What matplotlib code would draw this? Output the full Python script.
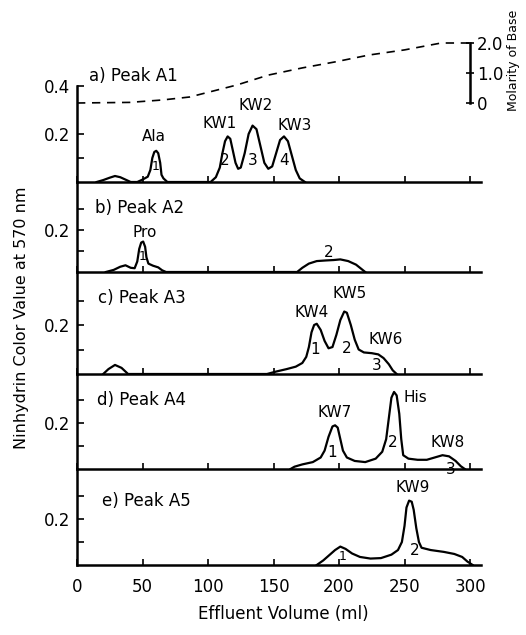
import matplotlib.pyplot as plt
import numpy as np

plt.rcParams['font.family'] = ['DejaVu Sans']

# effluent volume (ml) / ninhydrin colour value at 570 nm
a_ml = [15, 20, 25, 29, 33, 37, 41,
        46, 50, 54, 56, 57.5, 59, 60.5, 62, 63.5, 64.5, 66, 69,
        102, 106, 109, 111, 113, 115, 117, 119, 121, 123, 125, 128, 131, 134,
        137, 140, 143, 146, 149, 152, 155, 158, 161, 164, 167, 170, 174]
a_val = [0, 0.008, 0.018, 0.025, 0.02, 0.01, 0,
         0, 0.01, 0.022, 0.05, 0.1, 0.125, 0.13, 0.12, 0.08, 0.03, 0.015, 0,
         0, 0.02, 0.06, 0.12, 0.17, 0.19, 0.18, 0.13, 0.08, 0.055, 0.06, 0.12, 0.2, 0.235,
         0.22, 0.15, 0.08, 0.055, 0.065, 0.12, 0.175, 0.19, 0.17, 0.11, 0.05, 0.015, 0]

b_ml = [22, 28, 33, 37, 41, 44, 46, 47.5, 49, 50.5, 52, 53, 54.5, 58, 62, 65, 68,
        168, 172, 177, 183, 190, 196, 201, 207, 213, 217, 220]
b_val = [0, 0.01, 0.025, 0.032, 0.02, 0.018, 0.05, 0.11, 0.14, 0.145, 0.12, 0.07, 0.04,
         0.03, 0.022, 0.008, 0,
         0, 0.02, 0.04, 0.052, 0.055, 0.057, 0.06, 0.052, 0.035, 0.015, 0]

c_ml = [20, 24, 29, 34, 39,
        145, 152, 160, 167, 172, 175, 177, 179, 181, 183, 186, 189, 192, 195, 198,
        201, 204, 206, 209, 212, 215, 219, 225, 230, 234, 238, 241, 244]
c_val = [0, 0.02, 0.037, 0.025, 0,
         0, 0.01, 0.02, 0.03, 0.045, 0.07, 0.11, 0.17, 0.2, 0.205, 0.18, 0.135, 0.105, 0.11,
         0.16, 0.22, 0.255, 0.25, 0.2, 0.14, 0.1, 0.088, 0.085, 0.08, 0.065, 0.04, 0.015, 0]

d_ml = [163, 166, 172, 180, 186, 189, 192, 195, 197, 199, 201, 203, 206, 212, 220, 228,
        233, 236, 238, 240, 242, 244, 246, 247.5, 249, 253, 260, 267, 273, 279, 284,
        289, 293, 296]
d_val = [0, 0.01, 0.02, 0.03, 0.05, 0.08, 0.14, 0.185, 0.19, 0.18, 0.13, 0.08, 0.05,
         0.035, 0.03, 0.045, 0.075, 0.13, 0.22, 0.31, 0.335, 0.32, 0.24, 0.13, 0.06,
         0.045, 0.04, 0.04, 0.05, 0.06, 0.055, 0.035, 0.012, 0]

e_ml = [183, 188, 193, 197, 201, 205, 210, 216, 224, 232, 240, 245, 248, 250, 251.5,
        253.5, 255.5, 257, 259, 261, 263, 270, 280, 288, 294, 298, 302]
e_val = [0, 0.02, 0.045, 0.065, 0.08, 0.07, 0.05, 0.035, 0.028, 0.03, 0.045, 0.065, 0.1,
         0.17, 0.25, 0.28, 0.275, 0.24, 0.16, 0.1, 0.075, 0.065, 0.057, 0.048, 0.035,
         0.015, 0]

# base gradient (molarity) drawn dashed in panel a
grad_ml = [0, 40, 65, 86, 122, 146, 172, 197, 223, 250, 278, 300]
grad_M = [0, 0.02, 0.1, 0.2, 0.6, 0.93, 1.17, 1.37, 1.6, 1.77, 2.0, 2.0]

panel_titles = ['a) Peak A1', 'b) Peak A2', 'c) Peak A3', 'd) Peak A4', 'e) Peak A5']
xticks = [0, 50, 100, 150, 200, 250, 300]

W, H = 526, 635
fig = plt.figure(figsize=(W / 100, H / 100), dpi=100)

# (bottom px, top px, ymax) for each panel
layout = [(182, 35, 147 / 240), (272, 182, 90 / 210), (374, 272, 102 / 245),
          (469, 374, 95 / 230), (565, 469, 96 / 230)]
series = [(a_ml, a_val), (b_ml, b_val), (c_ml, c_val), (d_ml, d_val), (e_ml, e_val)]

# peak labels: (text, ml, value, size)
notes = [
    [('Ala', 59, 0.19, 11), ('KW1', 109, 0.245, 11), ('KW2', 136, 0.317, 11),
     ('KW3', 166, 0.2375, 11), ('1', 60, 0.065, 9), ('2', 113, 0.09, 11),
     ('3', 134, 0.09, 11), ('4', 158, 0.09, 11)],
    [('Pro', 52, 0.19, 11), ('1', 50, 0.075, 9), ('2', 192, 0.095, 11)],
    [('KW4', 179, 0.25, 11), ('KW5', 208, 0.33, 11), ('KW6', 236, 0.14, 11),
     ('1', 182, 0.1, 11), ('2', 206, 0.105, 11), ('3', 229, 0.035, 11)],
    [('KW7', 197, 0.245, 11), ('His', 258, 0.31, 11), ('KW8', 283, 0.117, 11),
     ('1', 195, 0.07, 11), ('2', 241, 0.117, 11), ('3', 285, 0.0, 11)],
    [('KW9', 256, 0.335, 11), ('2', 258, 0.065, 11), ('1', 203, 0.035, 9)],
]
title_pos = [(9, 0.44), (14, 0.305), (16, 0.31), (15, 0.30), (19, 0.28)]

axes = []
for i, (bot, top, ymax) in enumerate(layout):
    ax = fig.add_axes([77 / W, 1 - bot / H, 403.5 / W, (bot - top) / H])
    ax.set_xlim(0, 308)
    ax.set_ylim(0, ymax)
    ax.patch.set_alpha(0)
    for s in ['top', 'right']:
        ax.spines[s].set_visible(False)
    for s in ['left', 'bottom']:
        ax.spines[s].set_linewidth(1.8)
    ml, val = series[i]
    ax.plot(ml, val, color='black', lw=1.6, solid_joinstyle='round')

    ax.set_xticks(xticks)
    ax.tick_params(axis='x', direction='in', length=4, width=1.2,
                   labelbottom=(i == 4), labelsize=12, pad=9)
    if i == 0:
        ax.set_yticks([0.2, 0.4])
        ax.set_yticklabels(['0.2', '0.4'])
        ax.set_yticks([0.1], minor=True)
        ax.spines['left'].set_bounds(0, 0.4)
    else:
        ax.set_yticks([0.2])
        ax.set_yticklabels(['0.2'])
        ax.set_yticks([0.1, 0.3], minor=True)
    ax.tick_params(axis='y', which='major', direction='in', length=5, width=1.2,
                   labelsize=12, pad=5)
    ax.tick_params(axis='y', which='minor', direction='in', length=5, width=1.2)

    tx, ty = title_pos[i]
    ax.text(tx, ty, panel_titles[i], fontsize=12, ha='left', va='center')
    for txt, x, y, fs in notes[i]:
        ax.text(x, y, txt, fontsize=fs, ha='center', va='center')
    axes.append(ax)

# molarity scale on the right of panel a
axm = axes[0].twinx()
axm.set_ylim(-79 / 30, -79 / 30 + 147 / 30)
for s in ['top', 'left', 'bottom']:
    axm.spines[s].set_visible(False)
axm.spines['right'].set_position(('data', 300))
axm.spines['right'].set_bounds(0, 2.0)
axm.spines['right'].set_linewidth(1.8)
axm.set_yticks([0, 1.0, 2.0])
axm.set_yticklabels(['0', '1.0', '2.0'])
axm.tick_params(axis='y', direction='inout', length=6, width=1.2, labelsize=12, pad=2)
axm.plot(grad_ml, grad_M, color='black', lw=1.2, ls=(0, (5, 4)), clip_on=False)

fig.text(22 / W, 1 - 318 / H, 'Ninhydrin Color Value at 570 nm', rotation=90,
         fontsize=11.5, ha='center', va='center')
fig.text(283 / W, 1 - 614 / H, 'Effluent Volume (ml)', fontsize=12,
         ha='center', va='center')
fig.text(513 / W, 1 - 60 / H, 'Molarity of Base', rotation=90, fontsize=9,
         ha='center', va='center')

fig.savefig('out.png', dpi=100)
